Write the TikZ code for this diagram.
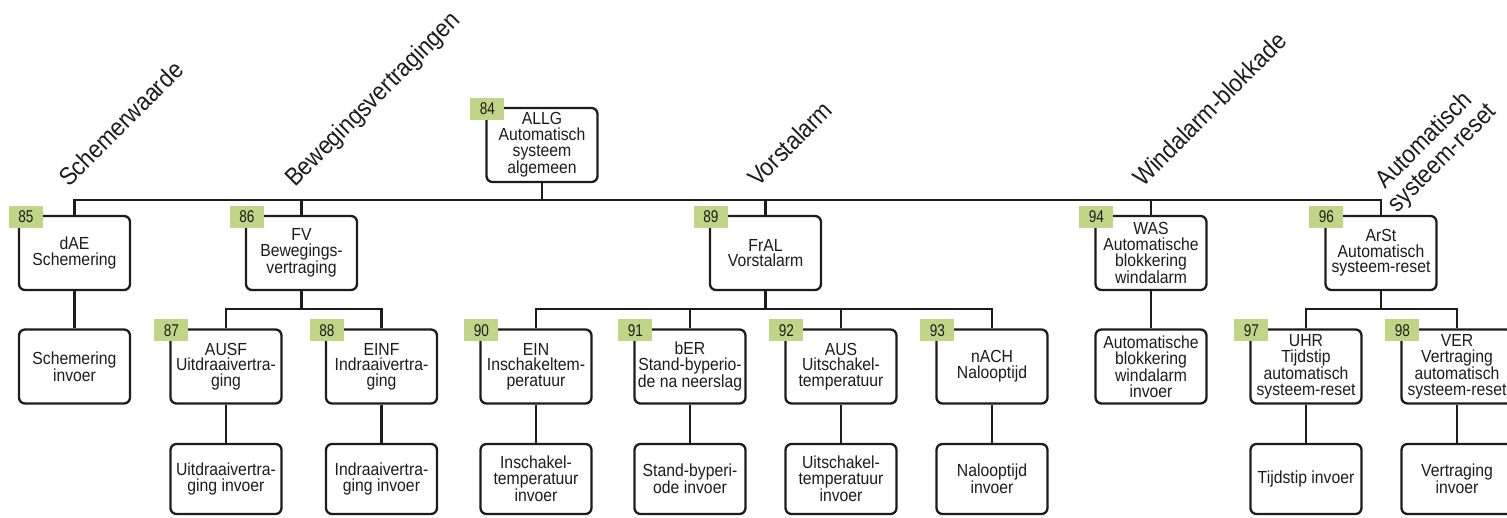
\documentclass[tikz,border=0pt]{standalone}
\usepackage{fontspec}
\setmainfont[FakeStretch=0.9]{Liberation Sans}
\newfontfamily\numfont[FakeStretch=0.8]{Liberation Sans}
\definecolor{ink}{HTML}{1E1B1C}
\definecolor{tagg}{RGB}{192,214,134}
\tikzset{
  box/.style={draw=ink, line width=2.3pt, rounded corners=6pt, minimum width=111pt, minimum height=74pt,
    align=center, inner sep=0pt, text=ink, font=\fontsize{17.5}{15.7}\selectfont},
  lowbox/.style={box, minimum height=70pt},
  tag/.style={fill=tagg, minimum width=34pt, minimum height=22pt, inner sep=0pt, text=ink,
    font=\numfont\fontsize{17}{17}\selectfont},
  title/.style={rotate=45, anchor=base west, inner sep=0pt, text=ink, font=\fontsize{25}{24}\selectfont},
  conn/.style={draw=ink, line width=2.3pt}
}
\begin{document}
\begin{tikzpicture}[x=1pt,y=-1pt]
\useasboundingbox (0,0) rectangle (1507,517);
% titles
\node[title] (t1) at (69,188) {Schemerwaarde};
\node[title] (t2) at (295,188) {Bewegingsvertragingen};
\node[title] (t3) at (758,188) {Vorstalarm};
\node[title] (t4) at (1143,188) {Windalarm-blokkade};
\node[title, anchor=center, align=center, font=\fontsize{25}{25}\selectfont] (t5) at (1434,150) {Automatisch\\systeem-reset};
% bus coordinates
\coordinate (bus) at (0,200);
\coordinate (fvb) at (0,309);
\coordinate (frb) at (0,309);
\coordinate (arb) at (0,309);
% level 0
\node[box] (allg) at (542,145) {ALLG\\Automatisch\\systeem\\algemeen};
% level 1
\node[box] (dae) at (74.5,253) {dAE\\Schemering};
\node[box] (fv) at (301.5,253) {FV\\Bewegings-\\vertraging};
\node[box] (fral) at (765.5,253) {FrAL\\Vorstalarm};
\node[box] (was) at (1151,253) {WAS\\Automatische\\blokkering\\windalarm};
\node[box] (arst) at (1381,253) {ArSt\\Automatisch\\systeem-reset};
% level 2
\node[box] (dain) at (74.5,366.5) {Schemering\\invoer};
\node[box] (ausf) at (226,366.5) {AUSF\\Uitdraaivertra-\\ging};
\node[box] (einf) at (381.5,366.5) {EINF\\Indraaivertra-\\ging};
\node[box] (ein) at (536,366.5) {EIN\\Inschakeltem-\\peratuur};
\node[box] (ber) at (690,366.5) {bER\\Stand-byperio-\\de na neerslag};
\node[box] (aus) at (841,366.5) {AUS\\Uitschakel-\\temperatuur};
\node[box] (nach) at (992,366.5) {nACH\\Nalooptijd};
\node[box] (wain) at (1151,366.5) {Automatische\\blokkering\\windalarm\\invoer};
\node[box] (uhr) at (1306,366.5) {UHR\\Tijdstip\\automatisch\\systeem-reset};
\node[box] (ver) at (1457,366.5) {VER\\Vertraging\\automatisch\\systeem-reset};
% level 3
\node[lowbox] (ausin) at (226,479) {Uitdraaivertra-\\ging invoer};
\node[lowbox] (einin) at (381.5,479) {Indraaivertra-\\ging invoer};
\node[lowbox] (eiin) at (536,479) {Inschakel-\\temperatuur\\invoer};
\node[lowbox] (berin) at (690,479) {Stand-byperi-\\ode invoer};
\node[lowbox] (ausin2) at (841,479) {Uitschakel-\\temperatuur\\invoer};
\node[lowbox] (nachin) at (992,479) {Nalooptijd\\invoer};
\node[lowbox] (uhrin) at (1306,479) {Tijdstip invoer};
\node[lowbox] (verin) at (1457,479) {Vertraging\\invoer};
% connectors
\draw[conn] (dae.north) -- (dae.north |- bus) -- (arst.north |- bus) -- (arst.north);
\draw[conn] (allg.south) -- (allg.south |- bus);
\draw[conn] (fv.north) -- (fv.north |- bus);
\draw[conn] (fral.north) -- (fral.north |- bus);
\draw[conn] (was.north) -- (was.north |- bus);
\draw[conn] (dae.south) -- (dain.north);
\draw[conn] (was.south) -- (wain.north);
\draw[conn] (ausf.north) -- (ausf.north |- fvb) -- (einf.north |- fvb) -- (einf.north);
\draw[conn] (fv.south) -- (fv.south |- fvb);
\draw[conn] (ein.north) -- (ein.north |- frb) -- (nach.north |- frb) -- (nach.north);
\draw[conn] (fral.south) -- (fral.south |- frb);
\draw[conn] (ber.north) -- (ber.north |- frb);
\draw[conn] (aus.north) -- (aus.north |- frb);
\draw[conn] (uhr.north) -- (uhr.north |- arb) -- (ver.north |- arb) -- (ver.north);
\draw[conn] (arst.south) -- (arst.south |- arb);
\draw[conn] (ausf.south) -- (ausin.north);
\draw[conn] (einf.south) -- (einin.north);
\draw[conn] (ein.south) -- (eiin.north);
\draw[conn] (ber.south) -- (berin.north);
\draw[conn] (aus.south) -- (ausin2.north);
\draw[conn] (nach.south) -- (nachin.north);
\draw[conn] (uhr.south) -- (uhrin.north);
\draw[conn] (ver.south) -- (verin.north);
% tags
\node[tag] (n84) at ([xshift=2pt,yshift=-2pt]allg.north west) {84};
\node[tag] (n85) at ([xshift=8pt,yshift=-2pt]dae.north west) {85};
\node[tag] (n86) at ([xshift=2pt,yshift=-2pt]fv.north west) {86};
\node[tag] (n87) at ([xshift=2pt,yshift=-2pt]ausf.north west) {87};
\node[tag] (n88) at ([xshift=2pt,yshift=-2pt]einf.north west) {88};
\node[tag] (n89) at ([xshift=2pt,yshift=-2pt]fral.north west) {89};
\node[tag] (n90) at ([xshift=2pt,yshift=-2pt]ein.north west) {90};
\node[tag] (n91) at ([xshift=2pt,yshift=-2pt]ber.north west) {91};
\node[tag] (n92) at ([xshift=2pt,yshift=-2pt]aus.north west) {92};
\node[tag] (n93) at ([xshift=2pt,yshift=-2pt]nach.north west) {93};
\node[tag] (n94) at ([xshift=2pt,yshift=-2pt]was.north west) {94};
\node[tag] (n96) at ([xshift=2pt,yshift=-2pt]arst.north west) {96};
\node[tag] (n97) at ([xshift=2pt,yshift=-2pt]uhr.north west) {97};
\node[tag] (n98) at ([xshift=2pt,yshift=-2pt]ver.north west) {98};
\end{tikzpicture}
\end{document}
